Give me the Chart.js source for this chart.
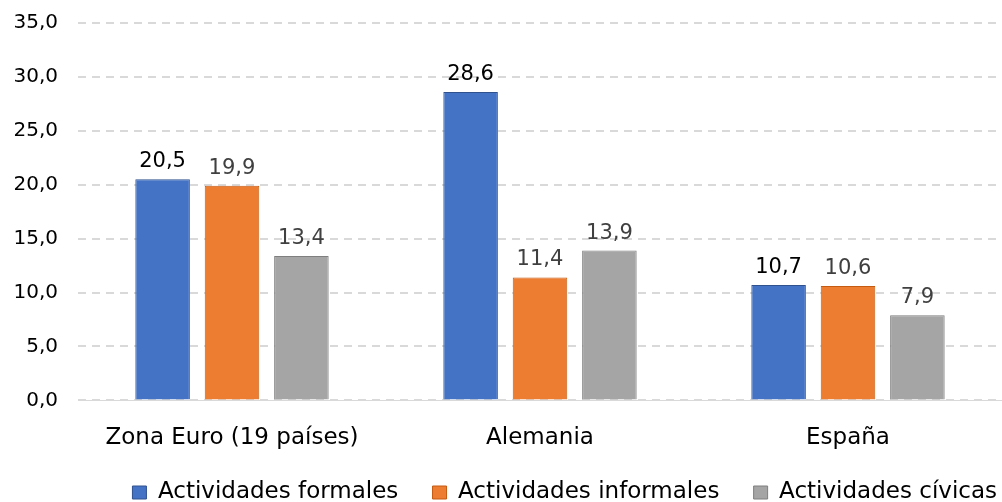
<!DOCTYPE html>
<html><head><meta charset="utf-8">
<script src="https://cdn.jsdelivr.net/npm/chart.js@4/dist/chart.umd.min.js"></script>
<style>html,body{margin:0;padding:0;background:#fff}#wrap{width:1002px;height:502px;position:relative}</style>
</head><body><div id="wrap"><canvas id="c" width="1002" height="502"></canvas></div>
<script>
const categories = ["Zona Euro (19 países)", "Alemania", "España"];
const seriesNames = ["Actividades formales", "Actividades informales", "Actividades cívicas"];
const formales = [20.5, 28.6, 10.7];
const informales = [19.9, 11.4, 10.6];
const civicas = [13.4, 13.9, 7.9];
const yTicks = [0, 5, 10, 15, 20, 25, 30, 35];

const fmt = v => v.toFixed(1).replace('.', ',');
const FONT = '"DejaVu Sans", Verdana, sans-serif';

const labelPlugin = {
  id: 'vals',
  afterDatasetsDraw(chart) {
    const ctx = chart.ctx;
    ctx.save();
    ctx.font = '21px ' + FONT;
    ctx.textAlign = 'center';
    ctx.textBaseline = 'alphabetic';
    chart.data.datasets.forEach((ds, i) => {
      const meta = chart.getDatasetMeta(i);
      meta.data.forEach((bar, j) => {
        ctx.fillStyle = i === 0 ? '#000000' : '#404040';
        ctx.fillText(fmt(ds.data[j]), bar.x, bar.y - 12);
      });
    });
    ctx.restore();
  }
};

new Chart(document.getElementById('c'), {
  type: 'bar',
  data: {
    labels: categories,
    datasets: [
      { label: seriesNames[0], data: formales, backgroundColor: '#4472C4', borderColor: '#2F528F', borderWidth: 1 },
      { label: seriesNames[1], data: informales, backgroundColor: '#ED7D31', borderColor: '#C55A11', borderWidth: 1 },
      { label: seriesNames[2], data: civicas, backgroundColor: '#A5A5A5', borderColor: '#7F7F7F', borderWidth: 1 }
    ]
  },
  options: {
    responsive: false,
    animation: false,
    devicePixelRatio: 1,
    layout: { padding: { top: 23, right: 0, left: 0, bottom: -12 } },
    datasets: { bar: { categoryPercentage: 0.676, barPercentage: 0.786 } },
    scales: {
      x: {
        grid: { display: false, drawTicks: false },
        border: { display: true, color: '#D9D9D9', width: 1 },
        ticks: { color: '#000', font: { family: FONT, size: 23 }, padding: 24 }
      },
      y: {
        min: 0, max: 35,
        afterBuildTicks(s) { s.ticks = yTicks.map(v => ({ value: v })); },
        afterFit(s) { s.width = 78; s.paddingTop = 0; s.paddingBottom = 0; },
        grid: { color: '#D9D9D9', lineWidth: 2, drawTicks: false },
        border: { display: false, dash: [8, 6] },
        ticks: { color: '#000', font: { family: FONT, size: 20 }, padding: 20, callback: v => fmt(v) }
      }
    },
    plugins: {
      legend: {
        position: 'bottom',
        align: 'end',
        labels: {
          color: '#000',
          font: { family: FONT, size: 23 },
          boxWidth: 14, boxHeight: 13, padding: 5, useBorderRadius: false,
          generateLabels(chart) {
            const items = Chart.defaults.plugins.legend.labels.generateLabels(chart);
            items.forEach((it, i) => { if (i < items.length - 1) it.text = it.text + '    '; });
            return items;
          }
        }
      },
      tooltip: { enabled: false }
    }
  },
  plugins: [labelPlugin]
});
</script></body></html>
